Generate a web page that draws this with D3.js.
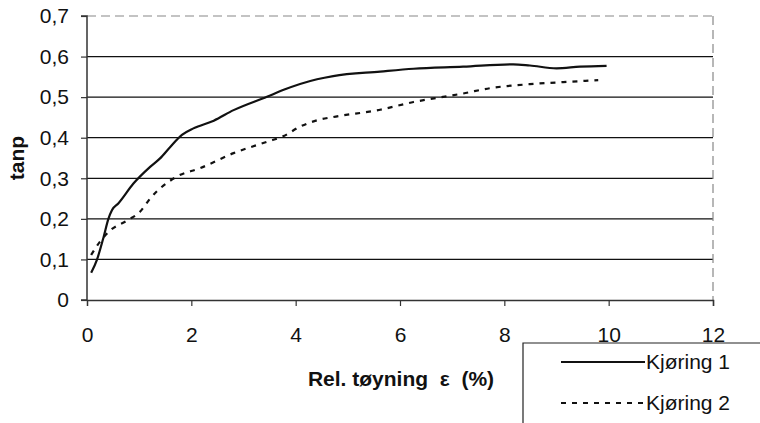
<!DOCTYPE html>
<html><head><meta charset="utf-8">
<script src="https://cdn.jsdelivr.net/npm/d3@7"></script>
<style>body{margin:0;background:#fff}svg{display:block}</style>
</head><body>
<script>
const xTicks = [0, 2, 4, 6, 8, 10, 12];
const yTicks = [0, 0.1, 0.2, 0.3, 0.4, 0.5, 0.6, 0.7];
const seriesNames = ["Kjøring 1", "Kjøring 2"];
const run1X = [0.08,0.19,0.32,0.41,0.48,0.6,0.89,1.21,1.4,1.6,1.82,2.04,2.43,2.81,3.45,3.77,4.41,4.72,5.62,6.26,7.21,8.17,8.49,9.0,9.45,9.96];
const run1Y = [0.067,0.099,0.156,0.2,0.222,0.238,0.287,0.328,0.349,0.378,0.407,0.423,0.442,0.468,0.501,0.518,0.544,0.552,0.563,0.570,0.575,0.581,0.578,0.571,0.575,0.577];
const run2X = [0.08,0.25,0.45,0.77,1.02,1.21,1.72,2.17,2.81,3.45,3.77,4.08,4.41,4.72,5.62,6.26,6.7,7.21,7.72,8.49,9.26,9.8];
const run2Y = [0.111,0.144,0.172,0.196,0.218,0.25,0.304,0.325,0.362,0.39,0.404,0.427,0.443,0.451,0.469,0.488,0.498,0.509,0.522,0.532,0.538,0.542];

const W = 760, H = 423;
const svg = d3.select("body").append("svg").attr("width", W).attr("height", H);
const x = d3.scaleLinear().domain([0, 12]).range([87, 713]);
const y = d3.scaleLinear().domain([0, 0.7]).range([300, 16]);
const fmt = d => d === 0 ? "0" : d3.format(".1f")(d).replace(".", ",");
const font = "'Liberation Sans', Arial, sans-serif";

// gridlines
svg.append("g").selectAll("line").data(yTicks.filter(t => t > 0 && t < 0.7)).join("line")
  .attr("x1", x(0)).attr("x2", x(12)).attr("y1", d => y(d)).attr("y2", d => y(d))
  .attr("stroke", "#111").attr("stroke-width", 1.2);
// top dashed border
svg.append("line").attr("x1", x(0)).attr("x2", x(12)).attr("y1", y(0.7)).attr("y2", y(0.7))
  .attr("stroke", "#888").attr("stroke-width", 1.2).attr("stroke-dasharray", "9,5");
// right dashed border
svg.append("line").attr("x1", x(12)).attr("x2", x(12)).attr("y1", y(0.7)).attr("y2", y(0))
  .attr("stroke", "#888").attr("stroke-width", 1.2).attr("stroke-dasharray", "9,5");

// axes
const yAxis = svg.append("g").attr("transform", `translate(${x(0)},0)`)
  .call(d3.axisLeft(y).tickValues(yTicks).tickFormat(fmt).tickSize(6).tickPadding(12));
const xAxis = svg.append("g").attr("transform", `translate(0,${y(0)})`)
  .call(d3.axisBottom(x).tickValues(xTicks).tickFormat(d3.format("d")).tickSize(6).tickPadding(21));
[yAxis, xAxis].forEach(a => {
  a.attr("font-size", null).attr("font-family", null);
  a.select(".domain").attr("stroke", "#333").attr("stroke-width", 1.5);
  a.selectAll(".tick line").attr("stroke", "#333").attr("stroke-width", 1.2);
  a.selectAll("text").style("font-family", font).style("font-size", "21px").attr("fill", "#111");
});
yAxis.select(".domain").attr("d", `M-6,${y(0.7)}H0V${y(0)}H-6`);
xAxis.selectAll(".tick").filter(d => d === 0).select("line").remove();

// lines
const line = d3.line().x(d => x(d[0])).y(d => y(d[1])).curve(d3.curveMonotoneX);
svg.append("path").datum(run1X.map((v, i) => [v, run1Y[i]]))
  .attr("d", line).attr("fill", "none").attr("stroke", "#111").attr("stroke-width", 2.2);
svg.append("path").datum(run2X.map((v, i) => [v, run2Y[i]]))
  .attr("d", line).attr("fill", "none").attr("stroke", "#111").attr("stroke-width", 2.2)
  .attr("stroke-dasharray", "5,6");

// axis titles
svg.append("text").attr("transform", `translate(24,${(y(0.35))}) rotate(-90)`)
  .attr("text-anchor", "middle").style("font-family", font).style("font-weight", "bold")
  .style("font-size", "21px").attr("fill", "#111").text("tanp");
svg.append("text").attr("x", 401).attr("y", 386).attr("text-anchor", "middle")
  .style("font-family", font).style("font-weight", "bold").style("font-size", "21px")
  .style("white-space", "pre").attr("fill", "#111")
  .text("Rel. tøyning  ε  (%)");

// legend
const lg = svg.append("g");
lg.append("path").attr("d", `M${W + 5},343H523V${H + 5}`).attr("fill", "none")
  .attr("stroke", "#222").attr("stroke-width", 1.2);
seriesNames.forEach((n, i) => {
  const yy = 362 + i * 41;
  lg.append("line").attr("x1", 561).attr("x2", 645).attr("y1", yy).attr("y2", yy)
    .attr("stroke", "#111").attr("stroke-width", 1.8)
    .attr("stroke-dasharray", i === 1 ? "5,6" : null);
  lg.append("text").attr("x", 646).attr("y", yy + 7).style("font-family", font)
    .style("font-size", "21px").attr("fill", "#111").text(n);
});
</script>
</body></html>
